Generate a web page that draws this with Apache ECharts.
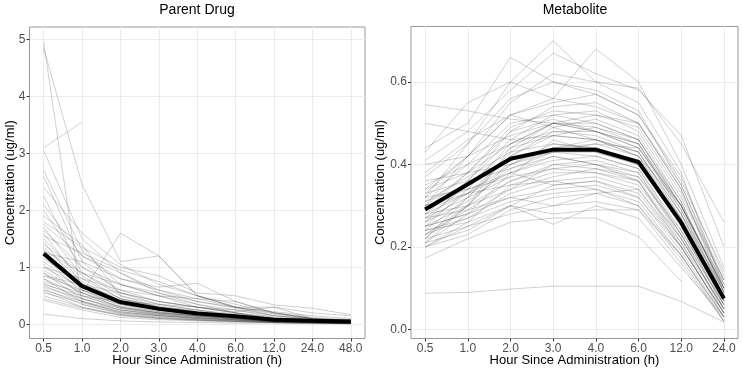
<!DOCTYPE html>
<html>
<head>
<meta charset="utf-8">
<script src="https://cdn.jsdelivr.net/npm/echarts@6/dist/echarts.min.js"></script>
<style>
  html, body { margin: 0; padding: 0; background: #fff; }
  #chart { width: 743px; height: 370px; }
</style>
</head>
<body>
<div id="chart"></div>
<script>
// time points (categorical x)
const parentHours = ["0.5", "1.0", "2.0", "3.0", "4.0", "6.0", "12.0", "24.0", "48.0"];
const metabHours = ["0.5", "1.0", "2.0", "3.0", "4.0", "6.0", "12.0", "24.0"];

const parentTicks = [0, 1, 2, 3, 4, 5];
const metabTicks = [0, 0.2, 0.4, 0.6];

// mean profiles (thick black)
const parentMean = [1.24, 0.67, 0.39, 0.27, 0.19, 0.14, 0.08, 0.06, 0.05];
const metabMean = [0.291, 0.352, 0.414, 0.436, 0.436, 0.406, 0.259, 0.075];

// individual subjects, parent drug
const parentSubjects = [
  [4.95, 0.35, 0.2, 0.15, 0.1, 0.07, 0.04, 0.03, 0.02],
  [4.85, 2.45, 1.1, 1.2, 0.5, 0.3, 0.2, 0.1, 0.06],
  [3.1, 3.55, null, null, null, null, null, null, null],
  [3.05, 1.5, 0.9, 0.55, 0.35, 0.2, 0.12, 0.08, 0.05],
  [2.7, 1.3, 0.7, 0.5, 0.3, 0.2, 0.1, 0.06, 0.04],
  [2.6, 1.1, 0.55, 0.35, 0.25, 0.15, 0.08, 0.05, 0.03],
  [2.4, 1.6, 1.05, 0.7, 0.5, 0.3, 0.15, 0.08, 0.05],
  [2.25, 0.9, 0.5, 0.3, 0.2, 0.12, 0.07, 0.05, 0.03],
  [2.1, 1.2, 0.8, 0.65, 0.72, 0.4, 0.2, 0.1, 0.07],
  [2.0, 1.0, 0.6, 0.4, 0.3, 0.2, 0.1, 0.06, 0.04],
  [1.8, 1.35, 1.0, 0.85, 0.55, 0.5, 0.34, 0.28, 0.17],
  [1.75, 1.2, 0.9, 0.6, 0.45, 0.3, 0.3, 0.2, 0.15],
  [1.7, 0.85, 0.45, 0.3, 0.2, 0.13, 0.07, 0.05, 0.03],
  [1.65, 1.0, 0.7, 0.5, 0.35, 0.25, 0.15, 0.1, 0.06],
  [1.6, 0.7, 0.4, 0.25, 0.18, 0.12, 0.07, 0.04, 0.03],
  [1.55, 1.25, 0.95, 0.75, 0.5, 0.35, 0.2, 0.12, 0.08],
  [1.5, 0.8, 0.45, 0.32, 0.22, 0.15, 0.09, 0.06, 0.04],
  [1.45, 0.6, 0.35, 0.22, 0.15, 0.1, 0.06, 0.04, 0.02],
  [1.4, 0.9, 0.55, 0.4, 0.3, 0.2, 0.1, 0.07, 0.05],
  [1.35, 0.75, 0.4, 0.28, 0.2, 0.14, 0.08, 0.05, 0.03],
  [1.3, 0.65, 0.35, 0.25, 0.17, 0.11, 0.06, 0.04, 0.03],
  [1.25, 1.1, 0.8, 0.6, 0.4, 0.28, 0.15, 0.09, 0.06],
  [1.2, 0.55, 0.3, 0.2, 0.14, 0.1, 0.05, 0.03, 0.02],
  [1.15, 0.7, 0.45, 0.3, 0.22, 0.15, 0.08, 0.05, 0.04],
  [1.1, 0.6, 0.32, 0.22, 0.15, 0.1, 0.06, 0.04, 0.03],
  [1.05, 0.5, 0.28, 0.18, 0.12, 0.08, 0.05, 0.03, 0.02],
  [1.0, 0.65, 0.4, 0.3, 0.25, 0.18, 0.1, 0.06, 0.04],
  [0.95, 0.55, 0.3, 0.2, 0.15, 0.1, 0.06, 0.04, 0.03],
  [0.9, 0.55, 1.6, 1.2, 0.5, 0.3, 0.18, 0.1, 0.07],
  [0.9, 0.45, 0.25, 0.17, 0.12, 0.08, 0.05, 0.03, 0.02],
  [0.85, 0.6, 0.4, 0.28, 0.2, 0.14, 0.08, 0.05, 0.04],
  [0.8, 0.5, 0.3, 0.2, 0.14, 0.1, 0.06, 0.04, 0.03],
  [0.8, 0.4, 0.22, 0.15, 0.1, 0.07, 0.04, 0.03, 0.02],
  [0.75, 0.55, 0.35, 0.25, 0.18, 0.12, 0.07, 0.05, 0.03],
  [0.72, 0.45, 0.25, 0.16, 0.11, 0.08, 0.05, 0.03, 0.02],
  [0.7, 0.5, 0.4, 0.35, 0.3, 0.25, 0.12, 0.07, 0.05],
  [0.68, 0.4, 0.2, 0.13, 0.09, 0.06, 0.04, 0.03, 0.02],
  [0.65, 0.45, 0.28, 0.2, 0.15, 0.1, 0.06, 0.04, 0.03],
  [0.62, 0.35, 0.18, 0.12, 0.08, 0.05, 0.03, 0.02, 0.01],
  [0.6, 0.4, 0.25, 0.18, 0.13, 0.09, 0.05, 0.04, 0.03],
  [0.58, 0.3, 0.17, 0.1, 0.07, 0.05, 0.03, 0.02, 0.01],
  [0.55, 0.38, 0.22, 0.15, 0.11, 0.08, 0.05, 0.03, 0.02],
  [0.5, 0.3, 0.15, 0.1, 0.07, 0.05, 0.03, 0.02, 0.01],
  [0.45, 0.28, 0.16, 0.11, 0.08, 0.06, 0.04, 0.03, 0.02],
  [0.42, 0.25, 0.12, 0.08, 0.06, 0.04, 0.03, 0.02, 0.01],
  [0.18, 0.1, 0.06, 0.04, 0.03, 0.02, 0.02, 0.01, 0.01],
  [1.9, 1.4, 0.5, 0.35, 0.25, 0.15, 0.08, 0.05, 0.03],
  [1.0, 0.8, 0.6, 0.5, 0.45, 0.4, 0.2, 0.1, 0.06],
  [1.3, 0.9, 0.7, 0.55, 0.4, 0.3, 0.22, 0.15, 0.1],
  [0.85, 0.7, 0.55, 0.4, 0.3, 0.22, 0.3, 0.1, 0.07]
];

// individual subjects, metabolite
const metabSubjects = [
  [0.545, 0.53, 0.51, 0.5, 0.48, 0.45, 0.3, 0.1],
  [0.5, 0.48, 0.46, 0.47, 0.46, 0.42, 0.3, 0.08],
  [0.44, 0.5, 0.66, 0.6, 0.58, 0.53, 0.35, 0.12],
  [0.43, 0.55, 0.6, 0.7, 0.6, 0.585, 0.45, 0.26],
  [0.41, 0.48, 0.58, 0.67, 0.62, 0.58, 0.47, 0.2],
  [0.088, 0.09, 0.098, 0.105, 0.105, 0.105, 0.068, 0.018],
  [0.173, 0.22, 0.26, 0.27, 0.27, 0.225, 0.117, null],
  [0.2, 0.25, 0.3, 0.255, 0.3, 0.27, 0.15, 0.03],
  [0.37, 0.45, 0.6, 0.56, 0.68, 0.6, 0.4, 0.15],
  [0.33, 0.42, 0.55, 0.62, 0.6, 0.55, 0.38, 0.1],
  [0.2, 0.26, 0.35, 0.38, 0.38, 0.35, 0.22, 0.05],
  [0.21, 0.28, 0.38, 0.42, 0.4, 0.37, 0.24, 0.06],
  [0.22, 0.3, 0.4, 0.45, 0.44, 0.4, 0.25, 0.07],
  [0.23, 0.27, 0.33, 0.36, 0.37, 0.34, 0.2, 0.04],
  [0.24, 0.32, 0.42, 0.48, 0.47, 0.43, 0.28, 0.08],
  [0.25, 0.3, 0.36, 0.4, 0.41, 0.38, 0.23, 0.06],
  [0.25, 0.34, 0.45, 0.5, 0.5, 0.46, 0.3, 0.1],
  [0.26, 0.31, 0.39, 0.43, 0.43, 0.4, 0.25, 0.05],
  [0.27, 0.35, 0.44, 0.47, 0.46, 0.42, 0.27, 0.07],
  [0.27, 0.29, 0.32, 0.34, 0.35, 0.32, 0.19, 0.03],
  [0.28, 0.36, 0.46, 0.52, 0.53, 0.48, 0.32, 0.12],
  [0.29, 0.33, 0.4, 0.44, 0.45, 0.42, 0.26, 0.08],
  [0.3, 0.38, 0.48, 0.54, 0.55, 0.5, 0.34, 0.09],
  [0.3, 0.34, 0.37, 0.39, 0.38, 0.36, 0.2, 0.04],
  [0.31, 0.37, 0.43, 0.45, 0.44, 0.41, 0.26, 0.06],
  [0.32, 0.4, 0.5, 0.52, 0.5, 0.46, 0.3, 0.11],
  [0.33, 0.36, 0.39, 0.42, 0.4, 0.38, 0.22, 0.05],
  [0.34, 0.42, 0.52, 0.55, 0.57, 0.52, 0.36, 0.14],
  [0.35, 0.4, 0.45, 0.48, 0.48, 0.45, 0.28, 0.09],
  [0.36, 0.38, 0.4, 0.43, 0.42, 0.39, 0.24, 0.07],
  [0.22, 0.25, 0.28, 0.3, 0.31, 0.29, 0.18, 0.03],
  [0.23, 0.29, 0.36, 0.39, 0.4, 0.36, 0.21, 0.05],
  [0.24, 0.27, 0.31, 0.33, 0.34, 0.31, 0.18, 0.02],
  [0.26, 0.33, 0.42, 0.47, 0.49, 0.45, 0.29, 0.09],
  [0.28, 0.33, 0.38, 0.41, 0.42, 0.39, 0.23, 0.06],
  [0.29, 0.38, 0.49, 0.53, 0.52, 0.49, 0.33, 0.12],
  [0.31, 0.35, 0.41, 0.44, 0.46, 0.43, 0.27, 0.08],
  [0.2, 0.23, 0.29, 0.32, 0.33, 0.3, 0.17, 0.02],
  [0.21, 0.24, 0.3, 0.35, 0.36, 0.32, 0.2, 0.04],
  [0.32, 0.45, 0.56, 0.6, 0.57, 0.52, 0.37, 0.13],
  [0.38, 0.46, 0.52, 0.56, 0.54, 0.5, 0.34, 0.1],
  [0.4, 0.42, 0.47, 0.5, 0.49, 0.46, 0.31, 0.09],
  [0.25, 0.28, 0.34, 0.37, 0.39, 0.36, 0.22, 0.05],
  [0.27, 0.32, 0.37, 0.46, 0.43, 0.4, 0.26, 0.07],
  [0.3, 0.33, 0.35, 0.36, 0.34, 0.3, 0.18, 0.03],
  [0.23, 0.3, 0.44, 0.5, 0.52, 0.5, 0.35, 0.11],
  [0.26, 0.36, 0.48, 0.51, 0.48, 0.44, 0.3, 0.1],
  [0.24, 0.26, 0.3, 0.28, 0.29, 0.29, 0.16, 0.02],
  [0.22, 0.32, 0.43, 0.49, 0.51, 0.47, 0.31, 0.09],
  [0.28, 0.3, 0.34, 0.4, 0.39, 0.37, 0.23, 0.04],
  [0.34, 0.38, 0.45, 0.5, 0.48, 0.44, 0.29, 0.08],
  [0.3, 0.42, 0.52, 0.49, 0.46, 0.43, 0.28, 0.07],
  [0.25, 0.28, 0.32, 0.3, 0.33, 0.34, 0.21, 0.03],
  [0.21, 0.3, 0.41, 0.43, 0.45, 0.44, 0.3, 0.1],
  [0.32, 0.34, 0.38, 0.35, 0.36, 0.33, 0.2, 0.04]
];

const FONT = "Liberation Sans, Arial, sans-serif";

function xAxisFor(gridIndex, labels, pad) {
  const ticks = labels.map((_, i) => i);
  return {
    type: "value",
    gridIndex: gridIndex,
    min: -pad,
    max: labels.length - 1 + pad,
    name: "Hour Since Administration (h)",
    nameLocation: "middle",
    nameGap: 15,
    nameMoveOverlap: false,
    nameTextStyle: { color: "#000", fontSize: 13, fontFamily: FONT },
    axisLine: { show: false, onZero: false },
    axisTick: { show: true, customValues: ticks, length: 3, lineStyle: { color: "#333" } },
    axisLabel: {
      customValues: ticks,
      formatter: (v) => labels[Math.round(v)],
      color: "#4d4d4d",
      fontSize: 12,
      fontFamily: FONT,
      margin: 4
    },
    splitLine: { show: true, lineStyle: { color: "#ebebeb", width: 1 } }
  };
}

function yAxisFor(gridIndex, ticks, min, max, gap, digits) {
  return {
    type: "value",
    gridIndex: gridIndex,
    min: min,
    max: max,
    name: "Concentration (ug/ml)",
    nameLocation: "middle",
    nameGap: gap,
    nameMoveOverlap: false,
    nameTextStyle: { color: "#000", fontSize: 13, fontFamily: FONT },
    axisLine: { show: false, onZero: false },
    axisTick: { show: true, customValues: ticks, length: 3, lineStyle: { color: "#333" } },
    axisLabel: {
      customValues: ticks,
      formatter: (v) => v.toFixed(digits),
      color: "#4d4d4d",
      fontSize: 12,
      fontFamily: FONT,
      margin: 4
    },
    splitLine: { show: true, lineStyle: { color: "#ebebeb", width: 1 } }
  };
}

function subjectSeries(rows, idx) {
  return rows.map((r) => ({
    type: "line",
    xAxisIndex: idx,
    yAxisIndex: idx,
    data: r.map((v, i) => [i, v]).filter((p) => p[1] != null),
    symbol: "none",
    silent: true,
    z: 2,
    lineStyle: { color: "rgba(60,60,60,0.24)", width: 1 }
  }));
}

function meanSeries(vals, idx) {
  return {
    type: "line",
    xAxisIndex: idx,
    yAxisIndex: idx,
    data: vals.map((v, i) => [i, v]),
    symbol: "none",
    silent: true,
    z: 3,
    lineStyle: { color: "#000", width: 4 }
  };
}

const chart = echarts.init(document.getElementById("chart"));
chart.setOption({
  animation: false,
  backgroundColor: "#fff",
  textStyle: { fontFamily: FONT },
  graphic: [
    { type: "text", x: 197, y: 10, style: { text: "Parent Drug", font: "14px " + FONT, fill: "#000", textAlign: "center", textVerticalAlign: "middle" } },
    { type: "text", x: 575, y: 10, style: { text: "Metabolite", font: "14px " + FONT, fill: "#000", textAlign: "center", textVerticalAlign: "middle" } }
  ],
  grid: [
    { left: 29.5, top: 27, width: 335.5, height: 311.5, show: true, borderColor: "#999", borderWidth: 1, outerBoundsMode: "none" },
    { left: 411, top: 26.5, width: 327, height: 312, show: true, borderColor: "#999", borderWidth: 1, outerBoundsMode: "none" }
  ],
  xAxis: [xAxisFor(0, parentHours, 0.37), xAxisFor(1, metabHours, 0.33)],
  yAxis: [
    yAxisFor(0, parentTicks, -0.25, 5.22, 13, 0),
    yAxisFor(1, metabTicks, -0.0218, 0.7345, 24, 1)
  ],
  series: [].concat(
    subjectSeries(parentSubjects, 0),
    [meanSeries(parentMean, 0)],
    subjectSeries(metabSubjects, 1),
    [meanSeries(metabMean, 1)]
  )
});
</script>
</body>
</html>
